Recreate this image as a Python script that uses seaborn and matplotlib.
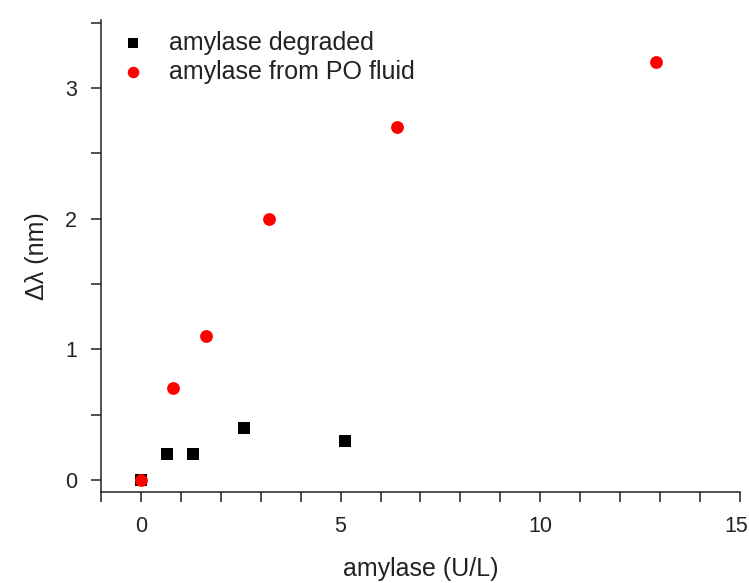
import matplotlib
matplotlib.use("Agg")
import matplotlib.pyplot as plt
import matplotlib.transforms as mtransforms
import seaborn as sns
import pandas as pd
from matplotlib.ticker import MultipleLocator

# Data
degraded_x = [0.0, 0.65, 1.3, 2.58, 5.1]
degraded_y = [0.0, 0.2, 0.2, 0.4, 0.3]
po_x = [0.0, 0.8, 1.62, 3.21, 6.41, 12.89]
po_y = [0.0, 0.7, 1.1, 2.0, 2.7, 3.2]
series_labels = ["amylase degraded", "amylase from PO fluid"]

sns.set_theme(style="ticks")
plt.rcParams["font.family"] = ["Liberation Sans", "DejaVu Sans"]

fig = plt.figure(figsize=(7.49, 5.83), dpi=100)
ax = fig.add_axes([0.1348, 0.1561, 0.988 - 0.1348, 0.9657 - 0.1561])

df_deg = pd.DataFrame({"x": degraded_x, "y": degraded_y})
df_po = pd.DataFrame({"x": po_x, "y": po_y})

sns.scatterplot(data=df_deg, x="x", y="y", marker="s", color="black", s=70,
                linewidth=0, ax=ax, label=series_labels[0], zorder=3)
sns.scatterplot(data=df_po, x="x", y="y", marker="o", color="#ff0000", s=85,
                linewidth=0, ax=ax, label=series_labels[1], zorder=4)

ax.set_xlim(-1, 15)
ax.set_ylim(-0.092, 3.52)
ax.xaxis.set_major_locator(MultipleLocator(5))
ax.xaxis.set_minor_locator(MultipleLocator(1))
ax.yaxis.set_major_locator(MultipleLocator(1))
ax.yaxis.set_minor_locator(MultipleLocator(0.5))

for side in ["top", "right"]:
    ax.spines[side].set_visible(False)
for side in ["left", "bottom"]:
    ax.spines[side].set_linewidth(1.1)
    ax.spines[side].set_color("#222222")

ax.tick_params(which="both", direction="out", length=7, width=1.1,
               color="#222222", labelsize=15.5, labelcolor="#222222")
ax.tick_params(axis="x", which="major", pad=10)
ax.tick_params(axis="y", which="major", pad=10)

ax.set_xlabel("amylase (U/L)", fontsize=18, color="#222222", labelpad=15)
ax.set_ylabel("\u0394\u03bb (nm)", fontsize=18, color="#222222", labelpad=12)

leg = ax.legend(loc="upper left", bbox_to_anchor=(-0.0277, 1.030), frameon=False,
                fontsize=18, handletextpad=0.43, labelspacing=0.2,
                borderaxespad=0.6, markerscale=0.9)
for t in leg.get_texts():
    t.set_color("#222222")

# nudge the "15" tick label slightly left so it stays inside the figure
fig.canvas.draw()
for lab in ax.get_xticklabels():
    if lab.get_text() == "15":
        lab.set_transform(lab.get_transform() +
                          mtransforms.ScaledTranslation(-4 / 100, 0, fig.dpi_scale_trans))

fig.savefig("out.png", dpi=100)
